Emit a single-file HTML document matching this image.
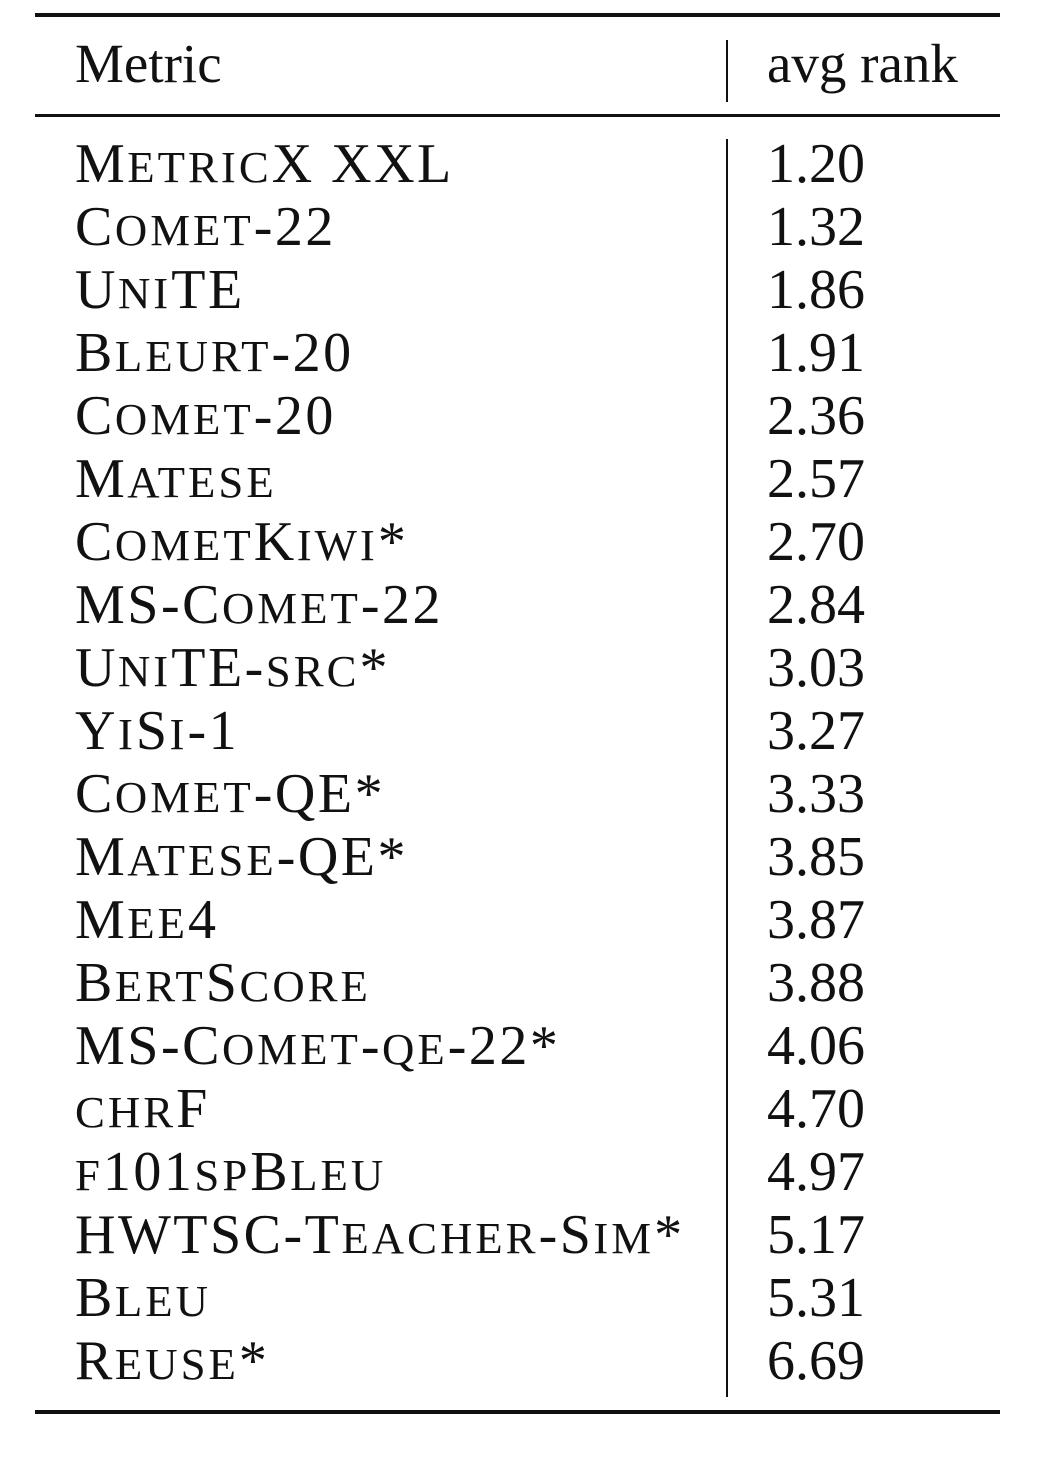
<!DOCTYPE html>
<html>
<head>
<meta charset="utf-8">
<style>
  html,body{margin:0;padding:0;background:#fff;}
  body{width:1039px;height:1460px;position:relative;overflow:hidden;
       font-family:"Liberation Serif",serif;color:#111;}
  .rule{position:absolute;left:35px;width:965px;background:#111;}
  .vline{position:absolute;left:726px;width:2px;background:#111;}
  .cell{position:absolute;font-size:56px;line-height:1;white-space:nowrap;}
  .name{left:75px;letter-spacing:2.5px;}
  .sc{font-size:0.8em;text-transform:uppercase;letter-spacing:3px;}
  .val{left:767px;}
  .hdr{font-size:55px;}
</style>
</head>
<body>
<div class="rule" style="top:13px;height:4px;"></div>
<div class="rule" style="top:114px;height:3px;"></div>
<div class="rule" style="top:1410px;height:4px;"></div>
<div class="vline" style="top:40px;height:62px;"></div>
<div class="vline" style="top:139px;height:1258px;"></div>

<div class="cell hdr" style="left:75px;top:36px;">Metric</div>
<div class="cell hdr" style="left:767px;top:36px;">avg rank</div>

<div id="rows"></div>
<script>
const metrics=["MetricX XXL","Comet-22","UniTE","Bleurt-20","Comet-20","Matese","CometKiwi*","MS-Comet-22","UniTE-src*","YiSi-1","Comet-QE*","Matese-QE*","Mee4","BertScore","MS-Comet-qe-22*","chrF","f101spBleu","HWTSC-Teacher-Sim*","Bleu","Reuse*"];
const ranks=["1.20","1.32","1.86","1.91","2.36","2.57","2.70","2.84","3.03","3.27","3.33","3.85","3.87","3.88","4.06","4.70","4.97","5.17","5.31","6.69"];
const body=document.getElementById('rows');
function smallCaps(el,str){
  const parts=str.match(/[a-z]+|[^a-z]+/g)||[];
  parts.forEach(p=>{
    if(/^[a-z]/.test(p)){
      const s=document.createElement('span');
      s.className='sc';
      s.textContent=p;
      el.appendChild(s);
    } else {
      el.appendChild(document.createTextNode(p));
    }
  });
}
metrics.forEach((m,i)=>{
  const top=136+63*i;
  const n=document.createElement('div');
  n.className='cell name';
  n.style.top=top+'px';
  smallCaps(n,m);
  
  
  body.appendChild(n);
  const v=document.createElement('div');
  v.className='cell val';
  v.style.top=top+'px';
  v.textContent=ranks[i];
  
  
  body.appendChild(v);
});
</script>
</body>
</html>
